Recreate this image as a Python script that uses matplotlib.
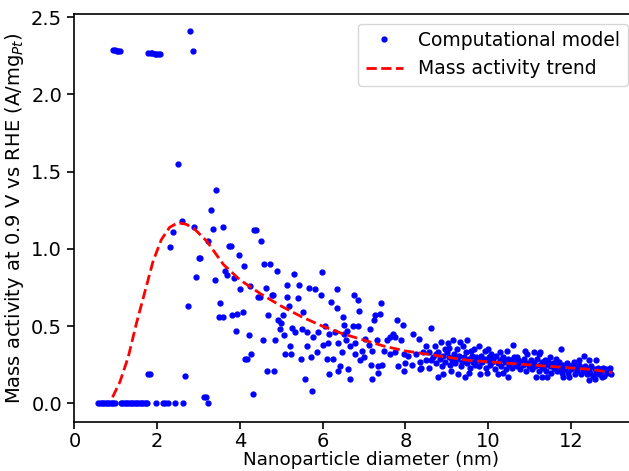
import numpy as np
import matplotlib
matplotlib.use("Agg")
import matplotlib.pyplot as plt

# Nanopartículas con actividad ~0 (diámetro en nm)
zero_diam = [0.58, 0.62, 0.66, 0.70, 0.74, 0.78, 0.82, 0.86, 0.90, 0.94, 0.98,
             1.12, 1.16, 1.20, 1.24, 1.28, 1.32, 1.36, 1.40, 1.44, 1.48, 1.52,
             1.56, 1.60, 1.64, 1.68, 1.72, 1.76, 1.97, 2.15, 2.20, 2.26, 2.44,
             2.63, 3.22]
zero_act = [0.0] * len(zero_diam)

# Valores atípicos altos y bajos
outlier_diam = [0.94, 0.98, 1.02, 1.06, 1.10, 1.79, 1.84, 1.88, 1.94, 1.98,
                2.03, 2.08, 2.80, 2.86,
                1.79, 1.82, 2.68, 3.12, 3.17, 4.31, 5.74]
outlier_act = [2.29, 2.29, 2.28, 2.28, 2.28, 2.27, 2.27, 2.27, 2.26, 2.26,
               2.26, 2.26, 2.41, 2.28,
               0.19, 0.19, 0.18, 0.04, 0.04, 0.06, 0.08]

# Nube principal (2.3 - 8.8 nm)
cloud_diam = [2.51, 3.43, 3.29, 2.59, 2.39, 2.90, 3.36, 3.58, 4.34, 4.38,
              2.32, 3.24, 3.73, 3.78, 4.52, 3.00, 3.04, 3.97, 4.09, 4.58,
              4.72, 4.89, 5.30, 5.99, 2.95, 3.39, 3.63, 3.70, 3.85, 4.01,
              4.24, 4.62, 5.15, 5.42, 5.67, 5.82, 6.35, 4.44, 4.48, 4.77,
              4.81, 5.13, 5.40, 5.96, 6.76, 6.86, 2.75, 3.53, 5.18, 6.20,
              6.34, 7.42, 6.88, 3.49, 3.60, 3.82, 3.94, 4.07, 4.69, 5.05,
              5.52, 4.91, 5.00, 4.96, 6.49, 7.27, 7.39, 7.25, 7.80, 7.95,
              8.61, 6.52, 6.74, 6.85, 7.15, 6.06, 5.26, 5.33, 5.50, 5.62,
              5.88, 6.15, 6.30, 6.60, 3.90, 4.21, 4.55, 4.84, 5.06, 5.77,
              6.00, 6.13, 6.37, 6.51, 6.57, 6.67, 6.79, 7.03, 7.12, 7.32,
              7.55, 7.62, 7.70, 7.76, 7.90, 8.19, 8.33, 8.50, 5.21, 5.62,
              5.09, 5.23, 5.86, 6.47, 6.79, 6.95, 7.20, 7.48, 7.62, 7.75,
              7.96, 8.06, 8.25, 8.43, 8.58, 8.75, 4.13, 4.17, 4.27, 5.47,
              5.72, 6.10, 6.25, 6.91, 7.00, 7.83, 7.98, 8.15, 8.36, 8.50,
              8.36, 8.58, 8.80, 6.42, 6.37, 6.61, 7.18, 7.34, 7.44, 7.35,
              7.97, 4.65, 4.82, 6.16, 6.65, 7.20, 5.57, 8.39]
cloud_act = [1.55, 1.38, 1.25, 1.18, 1.11, 1.14, 1.13, 1.14, 1.12, 1.12,
             1.01, 1.05, 1.02, 1.02, 1.05, 0.94, 0.94, 0.96, 0.89, 0.90,
             0.90, 0.86, 0.84, 0.85, 0.82, 0.80, 0.86, 0.83, 0.81, 0.74,
             0.76, 0.75, 0.77, 0.77, 0.75, 0.74, 0.74, 0.69, 0.69, 0.70,
             0.70, 0.69, 0.68, 0.70, 0.70, 0.67, 0.63, 0.65, 0.63, 0.66,
             0.62, 0.65, 0.60, 0.56, 0.56, 0.57, 0.58, 0.59, 0.57, 0.57,
             0.59, 0.54, 0.52, 0.48, 0.56, 0.57, 0.58, 0.54, 0.54, 0.51,
             0.49, 0.51, 0.50, 0.50, 0.48, 0.50, 0.49, 0.46, 0.48, 0.46,
             0.46, 0.45, 0.46, 0.47, 0.47, 0.44, 0.41, 0.41, 0.44, 0.43,
             0.38, 0.39, 0.39, 0.45, 0.41, 0.37, 0.39, 0.42, 0.38, 0.41,
             0.41, 0.43, 0.45, 0.43, 0.41, 0.45, 0.42, 0.37, 0.37, 0.37,
             0.32, 0.32, 0.33, 0.33, 0.32, 0.34, 0.34, 0.34, 0.32, 0.33,
             0.32, 0.31, 0.32, 0.33, 0.33, 0.32, 0.29, 0.29, 0.32, 0.29,
             0.30, 0.29, 0.29, 0.28, 0.30, 0.24, 0.26, 0.25, 0.27, 0.28,
             0.22, 0.23, 0.17, 0.24, 0.21, 0.22, 0.25, 0.24, 0.25, 0.20,
             0.21, 0.21, 0.21, 0.19, 0.16, 0.16, 0.16, 0.23]

# Partículas grandes (8.6 - 13 nm)
large_diam = [9.14, 9.50, 10.60, 11.76, 12.32, 12.60, 8.85, 8.71, 9.02, 9.40,
              9.65, 9.77, 10.45, 9.92, 10.08, 9.24, 8.95, 11.10, 11.22, 11.37,
              11.64, 12.07, 10.70, 10.94, 8.92, 9.28, 9.43, 9.80, 9.97, 10.23,
              10.48, 11.15, 11.30, 11.43, 11.80, 11.95, 12.44, 12.58, 12.75, 12.95,
              11.25, 9.05, 9.33, 9.58, 10.00, 10.30, 10.90, 11.50, 12.45, 12.20,
              9.10, 9.55, 10.35,
              8.62, 8.68, 8.74, 8.78, 8.83, 8.88, 8.91, 8.97, 9.00, 9.05,
              9.08, 9.12, 9.17, 9.20, 9.26, 9.30, 9.34, 9.37, 9.42, 9.46,
              9.49, 9.53, 9.57, 9.60, 9.63, 9.68, 9.71, 9.75, 9.79, 9.83,
              9.86, 9.90, 9.94, 9.98, 10.02, 10.05, 10.10, 10.13, 10.17, 10.20,
              10.25, 10.28, 10.32, 10.36, 10.40, 10.43, 10.47, 10.51, 10.55, 10.58,
              10.62, 10.66, 10.69, 10.73, 10.77, 10.80, 10.84, 10.88, 10.91, 10.95,
              10.99, 11.03, 11.06, 11.10, 11.14, 11.18, 11.22, 11.26, 11.30, 11.33,
              11.37, 11.41, 11.45, 11.49, 11.52, 11.56, 11.60, 11.63, 11.67, 11.71,
              11.74, 11.78, 11.82, 11.86, 11.90, 11.93, 11.97, 12.01, 12.05, 12.09,
              12.12, 12.16, 12.20, 12.24, 12.28, 12.31, 12.35, 12.39, 12.43, 12.47,
              12.50, 12.54, 12.58, 12.62, 12.66, 12.69, 12.73, 12.77, 12.81, 12.85,
              12.88, 12.92, 12.96]
large_act = [0.41, 0.41, 0.38, 0.35, 0.31, 0.28, 0.40, 0.37, 0.39, 0.37,
             0.35, 0.37, 0.34, 0.34, 0.32, 0.35, 0.35, 0.33, 0.32, 0.28,
             0.29, 0.27, 0.30, 0.32, 0.19, 0.19, 0.17, 0.19, 0.20, 0.19,
             0.17, 0.17, 0.17, 0.17, 0.17, 0.17, 0.15, 0.16, 0.17, 0.23,
             0.33, 0.36, 0.40, 0.34, 0.35, 0.33, 0.34, 0.30, 0.28, 0.28,
             0.21, 0.20, 0.20,
             0.28, 0.30, 0.26, 0.33, 0.29, 0.24, 0.31, 0.27, 0.33, 0.30,
             0.25, 0.28, 0.32, 0.26, 0.29, 0.31, 0.24, 0.27, 0.30, 0.33,
             0.26, 0.29, 0.23, 0.31, 0.27, 0.25, 0.30, 0.28, 0.24, 0.31,
             0.27, 0.29, 0.23, 0.28, 0.30, 0.25, 0.27, 0.29, 0.22, 0.31,
             0.26, 0.28, 0.24, 0.30, 0.27, 0.22, 0.29, 0.25, 0.28, 0.23,
             0.30, 0.26, 0.24, 0.28, 0.22, 0.27, 0.25, 0.29, 0.21, 0.26,
             0.24, 0.28, 0.22, 0.26, 0.24, 0.29, 0.21, 0.25, 0.27, 0.23,
             0.25, 0.21, 0.27, 0.24, 0.20, 0.26, 0.23, 0.25, 0.21, 0.27,
             0.23, 0.20, 0.25, 0.22, 0.26, 0.20, 0.24, 0.22, 0.25, 0.19,
             0.23, 0.21, 0.25, 0.19, 0.23, 0.21, 0.24, 0.19, 0.22, 0.20,
             0.24, 0.18, 0.22, 0.20, 0.23, 0.19, 0.21, 0.23, 0.18, 0.22,
             0.20, 0.21, 0.19]

# Tendencia de actividad másica
trend_diam = [0.92, 1.1, 1.3, 1.5, 1.7, 1.9, 2.1, 2.3, 2.5, 2.7, 2.9, 3.2,
              3.6, 4.0, 4.5, 5.0, 5.5, 6.0, 6.5, 7.0, 7.5, 8.0, 8.5, 9.0,
              9.5, 10.0, 10.5, 11.0, 11.5, 12.0, 12.5, 13.0]
trend_act = [0.04, 0.14, 0.30, 0.52, 0.72, 0.92, 1.06, 1.14, 1.17, 1.16,
             1.13, 1.05, 0.90, 0.80, 0.71, 0.63, 0.56, 0.50, 0.45, 0.41,
             0.37, 0.34, 0.32, 0.30, 0.28, 0.27, 0.26, 0.25, 0.24, 0.23,
             0.22, 0.20]

diam = zero_diam + outlier_diam + cloud_diam + large_diam
act = zero_act + outlier_act + cloud_act + large_act

fig = plt.figure(figsize=(6.29, 4.71), dpi=100)
ax = fig.add_axes([0.1177, 0.104, 0.895, 0.866])

ax.plot(diam, act, 'b.', markersize=7, label='Computational model')
ax.plot(trend_diam, trend_act, 'r--', linewidth=2, label='Mass activity trend')

ax.set_xlim(-0.01, 13.6)
ax.set_ylim(-0.12, 2.52)
ax.set_xticks([0, 2, 4, 6, 8, 10, 12])
ax.set_yticks([0.0, 0.5, 1.0, 1.5, 2.0, 2.5])

ax.set_xlabel('Nanoparticle diameter (nm)', fontsize=13.2)
ax.xaxis.set_label_coords(0.528, -0.072)
ax.set_ylabel(r'Mass activity at 0.9 V vs RHE (A/mg$_{Pt}$)', fontsize=14, labelpad=4)
ax.tick_params(labelsize=14, width=1.2, length=5)
ax.tick_params(axis='x', pad=2.5)
for s in ax.spines.values():
    s.set_linewidth(1.2)

ax.legend(loc='upper right', fontsize=13.5)

fig.savefig('out.png', dpi=100)
